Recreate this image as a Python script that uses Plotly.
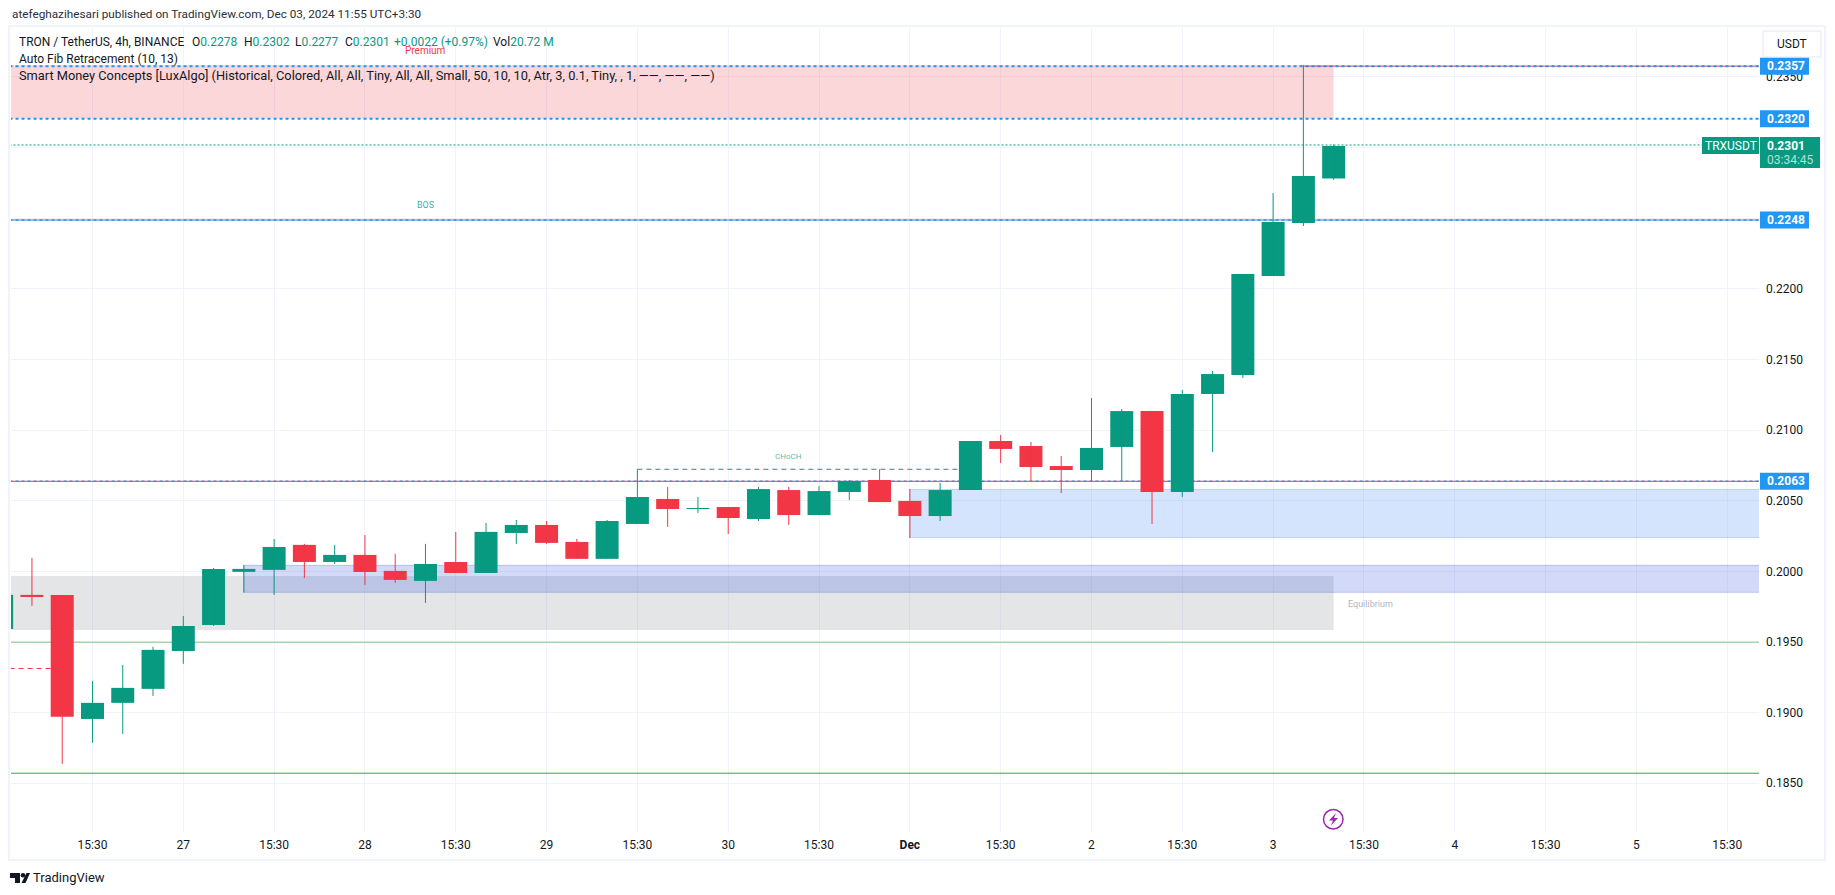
import pandas as pd
import plotly.graph_objects as go

# 4h candles of TRXUSDT, UTC+3:30, first one is cut off by the left edge
candle_times = pd.date_range("2024-11-26 03:30", periods=45, freq="4h")
candle_open = [.19592, .19833, .19833, .18955, .19069, .19168, .19436, .19620, .19996, .20010,
               .20187, .20066, .20116, .20003, .19932, .20066, .19988, .20271, .20328, .20208,
               .20088, .20335, .20512, .20441, .20455, .20370, .20575, .20398, .20561, .20646,
               .20498, .20391, .20575, .20922, .20887, .20745, .20717, .20880, .21134, .20561,
               .21255, .21389, .22090, .22465, .2278]
candle_high = [.19833, .20095, .19833, .19224, .19337, .19465, .19684, .20024, .20045, .20229,
               .20194, .20187, .20257, .20123, .20194, .20279, .20342, .20363, .20356, .20229,
               .20363, .20722, .20597, .20526, .20455, .20597, .20597, .20604, .20646, .20722,
               .20582, .20625, .20922, .20965, .20915, .20816, .21226, .21149, .21134, .21283,
               .21418, .22104, .22677, .23583, .2302]
candle_low = [.19592, .19755, .18637, .18786, .18849, .19118, .19345, .19613, .19849, .19833,
              .19953, .20052, .19904, .19918, .19776, .19988, .19988, .20194, .20194, .20088,
              .20088, .20335, .20314, .20413, .20264, .20356, .20328, .20398, .20505, .20490,
              .20236, .20356, .20575, .20766, .20639, .20554, .20639, .20639, .20335, .20526,
              .20844, .21368, .22090, .22444, .2277]
candle_close = [.19833, .19819, .18970, .19069, .19175, .19444, .19613, .20017, .20017, .20172,
                .20066, .20116, .19995, .19939, .20052, .19988, .20279, .20328, .20201, .20088,
                .20356, .20526, .20441, .20448, .20377, .20582, .20398, .20568, .20639, .20490,
                .20391, .20575, .20922, .20866, .20738, .20717, .20873, .21134, .20561, .21255,
                .21396, .22104, .22472, .22797, .2301]

tick_times = pd.date_range("2024-11-26 15:30", periods=19, freq="12h")
tick_labels = ["15:30", "27", "15:30", "28", "15:30", "29", "15:30", "30", "15:30", "<b>Dec</b>",
               "15:30", "2", "15:30", "3", "15:30", "4", "15:30", "5", "15:30"]

x_range = ["2024-11-26 04:44", "2024-12-05 19:42"]
y_range = [0.18155, 0.23845]

level_prices = [0.23575, 0.23203, 0.22486, 0.20637]
level_labels = ["0.2357", "0.2320", "0.2248", "0.2063"]
last_price = 0.23017
green_levels = [0.19498, 0.18571]
green_colors = ["#81c784", "#43a047"]

GREEN = "#089981"
RED = "#f23645"
BLUE = "#2196f3"
INK = "#131722"
FONT = "Roboto"
CANDLE_MS = 4 * 3600 * 1000 * 0.76

# page geometry of the TradingView snapshot, in pixels
W, H = 1835, 895
L, R, T, B = 11, 1759, 28, 832


def px(x):
    return (x - L) / (R - L)


def py(y):
    return (B - y) / (B - T)


def poly(points):
    return "M " + " L ".join(f"{px(x)},{py(y)}" for x, y in points) + " Z"


def hline(y, x0="2024-11-25", x1="2024-12-07", color=BLUE, dash="solid", width=1):
    return dict(type="line", xref="x", yref="y", x0=x0, x1=x1, y0=y, y1=y, layer="between",
                line=dict(color=color, dash=dash, width=width))


def zone(y0, y1, x0, x1, fill, edge=None):
    return dict(type="rect", xref="x", yref="y", x0=x0, x1=x1, y0=y0, y1=y1, layer="between",
                fillcolor=fill, line=dict(color=edge or "rgba(0,0,0,0)", width=1 if edge else 0))


def page_rect(x0, y0, x1, y1, fill="rgba(0,0,0,0)", edge=None, width=0):
    return dict(type="rect", xref="paper", yref="paper", x0=px(x0), x1=px(x1), y0=py(y0), y1=py(y1),
                fillcolor=fill, line=dict(color=edge or "rgba(0,0,0,0)", width=width))


def page_path(points, fill):
    return dict(type="path", xref="paper", yref="paper", path=poly(points),
                fillcolor=fill, line=dict(width=0))


def page_text(x, y, text, size=12, color=INK, xanchor="left"):
    return dict(xref="paper", yref="paper", x=px(x), y=py(y), text=text, showarrow=False,
                xanchor=xanchor, yanchor="middle", font=dict(family=FONT, size=size, color=color))


def chart_text(x, y, text, size, color):
    return dict(xref="x", yref="y", x=x, y=y, text=text, showarrow=False,
                font=dict(family=FONT, size=size, color=color))


def wick_trace(rising, color):
    xs, ys = [], []
    for t, o, h, l, c in zip(candle_times, candle_open, candle_high, candle_low, candle_close):
        if (c >= o) == rising:
            xs += [t, t, None]
            ys += [l, h, None]
    return go.Scatter(x=xs, y=ys, mode="lines", line=dict(color=color, width=1), hoverinfo="skip")


fig = go.Figure()
fig.add_trace(wick_trace(True, GREEN))
fig.add_trace(wick_trace(False, RED))
# bodies as bars so their width can be set, the candlestick trace draws them too thin
fig.add_trace(go.Bar(
    x=candle_times,
    y=[abs(c - o) for o, c in zip(candle_open, candle_close)],
    base=[min(o, c) for o, c in zip(candle_open, candle_close)],
    width=CANDLE_MS,
    marker=dict(color=[GREEN if c >= o else RED for o, c in zip(candle_open, candle_close)], line=dict(width=0)),
    hoverinfo="skip",
))

shapes = [
    # smart money zones
    zone(0.23203, 0.23583, "2024-11-25", "2024-12-03 11:30", "rgba(242,54,69,0.2)"),
    zone(0.19585, 0.19967, "2024-11-25", "2024-12-03 11:30", "rgba(120,123,134,0.2)"),
    zone(0.19851, 0.20042, "2024-11-27 11:30", "2024-12-07", "rgba(49,85,220,0.22)", "rgba(49,85,220,0.25)"),
    zone(0.20238, 0.20580, "2024-12-01 03:30", "2024-12-07", "rgba(33,110,243,0.19)", "rgba(33,110,243,0.2)"),
    # structure lines
    hline(level_prices[3], color=RED),
    hline(level_prices[2], color="#5b7fbf"),
    hline(level_prices[0], x0="2024-12-03 07:30", color=RED),
    hline(green_levels[0], color=green_colors[0]),
    hline(green_levels[1], color=green_colors[1]),
    hline(0.19312, x1="2024-11-26 11:30", color=RED, dash="5px,4px"),
    hline(0.20722, x0="2024-11-29 15:30", x1="2024-12-01 11:30", color=GREEN, dash="5px,4px"),
    # fib levels and last price
    hline(level_prices[0], color=BLUE, dash="3px,3px", width=2),
    hline(level_prices[1], color=BLUE, dash="3px,3px", width=2),
    hline(level_prices[2], color=BLUE, dash="3px,3px", width=1.5),
    hline(level_prices[3], color=BLUE, dash="3px,3px", width=1.5),
    hline(last_price, color=GREEN, dash="2px,2px", width=1),
    # snapshot frame and scale button
    page_rect(9, 26, 1825, 860, edge="#f0f3fa", width=2),
    page_rect(1763, 31, 1821, 57, fill="#ffffff", edge="#f0f3fa", width=2),
    # tags on the price scale
    page_rect(1760, 137, 1820, 168, fill=GREEN),
    page_rect(1702, 137, 1759, 154, fill=GREEN),
    # purple flash icon
    dict(type="circle", xref="paper", yref="paper", x0=px(1323.5), x1=px(1343), y0=py(809.5), y1=py(829),
         line=dict(color="#9c27b0", width=1.5)),
    page_path([(1336, 813), (1329, 820.5), (1333, 820.5), (1331, 825.5), (1338, 818), (1334, 818)], "#9c27b0"),
    # TradingView logo
    page_path([(10, 873), (20, 873), (20, 883), (15, 883), (15, 878), (10, 878)], INK),
    dict(type="circle", xref="paper", yref="paper", x0=px(20.7), x1=px(25.3), y0=py(873), y1=py(877.6),
         fillcolor=INK, line=dict(width=0)),
    page_path([(26.5, 873), (30, 873), (25.5, 883), (21.5, 883)], INK),
]

teal = lambda s: f"<span style='color:{GREEN}'>{s}</span>"

annotations = [
    page_text(10, 14, "atefeghazihesari published on TradingView.com, Dec 03, 2024 11:55 UTC+3:30", size=11.75, color="#2a2e39"),
    page_text(17, 42, "TRON / TetherUS, 4h, BINANCE"),
    page_text(190, 42, "O" + teal("0.2278")),
    page_text(242, 42, "H" + teal("0.2302")),
    page_text(293, 42, "L" + teal("0.2277")),
    page_text(343, 42, "C" + teal("0.2301")),
    page_text(392, 42, teal("+0.0022 (+0.97%)")),
    page_text(491, 42, "Vol" + teal("20.72 M")),
    page_text(17, 59, "Auto Fib Retracement (10, 13)"),
    page_text(17, 76, "Smart Money Concepts [LuxAlgo] (Historical, Colored, All, All, Tiny, All, All, Small, "
                      "50, 10, 10, Atr, 3, 0.1, Tiny, , 1, \u2014\u2014, \u2014\u2014, \u2014\u2014)", size=12.8),
    chart_text("2024-11-28 11:30", 0.23689, "Premium", 10, RED),
    chart_text("2024-11-28 11:30", 0.22594, "BOS", 9, "rgba(8,153,129,0.8)"),
    chart_text("2024-11-30 11:30", 0.2081, "CHoCH", 8, "rgba(8,153,129,0.7)"),
    chart_text("2024-12-03 16:20", 0.19771, "Equilibrium", 9, "#b2b5be"),
    page_text(1792, 44, "USDT", xanchor="center"),
    page_text(1730.5, 145.5, "TRXUSDT", color="#ffffff", xanchor="center"),
    page_text(1765, 146, "<b>0.2301</b>", color="#ffffff"),
    page_text(1765, 160, "03:34:45", color="#b5e0d8"),
    page_text(31, 877.5, "TradingView", size=13),
]
for price, label in zip(level_prices, level_labels):
    shapes.append(dict(type="rect", xref="paper", yref="y", ysizemode="pixel", yanchor=price, x0=px(1760),
                       x1=px(1809), y0=-8.5, y1=8.5, fillcolor=BLUE, line=dict(width=0)))
    annotations.append(dict(xref="paper", yref="y", x=px(1765), y=price, text=f"<b>{label}</b>", showarrow=False,
                            xanchor="left", yanchor="middle", font=dict(family=FONT, size=12, color="#ffffff")))

fig.update_layout(
    width=W, height=H,
    margin=dict(l=L, r=W - R, t=T, b=H - B),
    paper_bgcolor="#ffffff", plot_bgcolor="#ffffff",
    font=dict(family=FONT, size=12, color=INK),
    showlegend=False,
    shapes=shapes, annotations=annotations,
)
fig.update_xaxes(
    type="date", range=x_range, tickmode="array",
    tickvals=tick_times, ticktext=tick_labels, showgrid=True, gridcolor="#f0f3fa", gridwidth=1,
    zeroline=False, showline=False, ticks="", ticklabelstandoff=4,
)
fig.update_yaxes(
    range=y_range, side="right", dtick=0.005, tick0=0.185, tickformat=".4f", showgrid=True,
    gridcolor="#f0f3fa", gridwidth=1, zeroline=False, showline=False, ticks="", ticklabelstandoff=6,
)

fig.write_html("out.html", config={"displayModeBar": False}, post_script="document.body.style.margin='0';")
